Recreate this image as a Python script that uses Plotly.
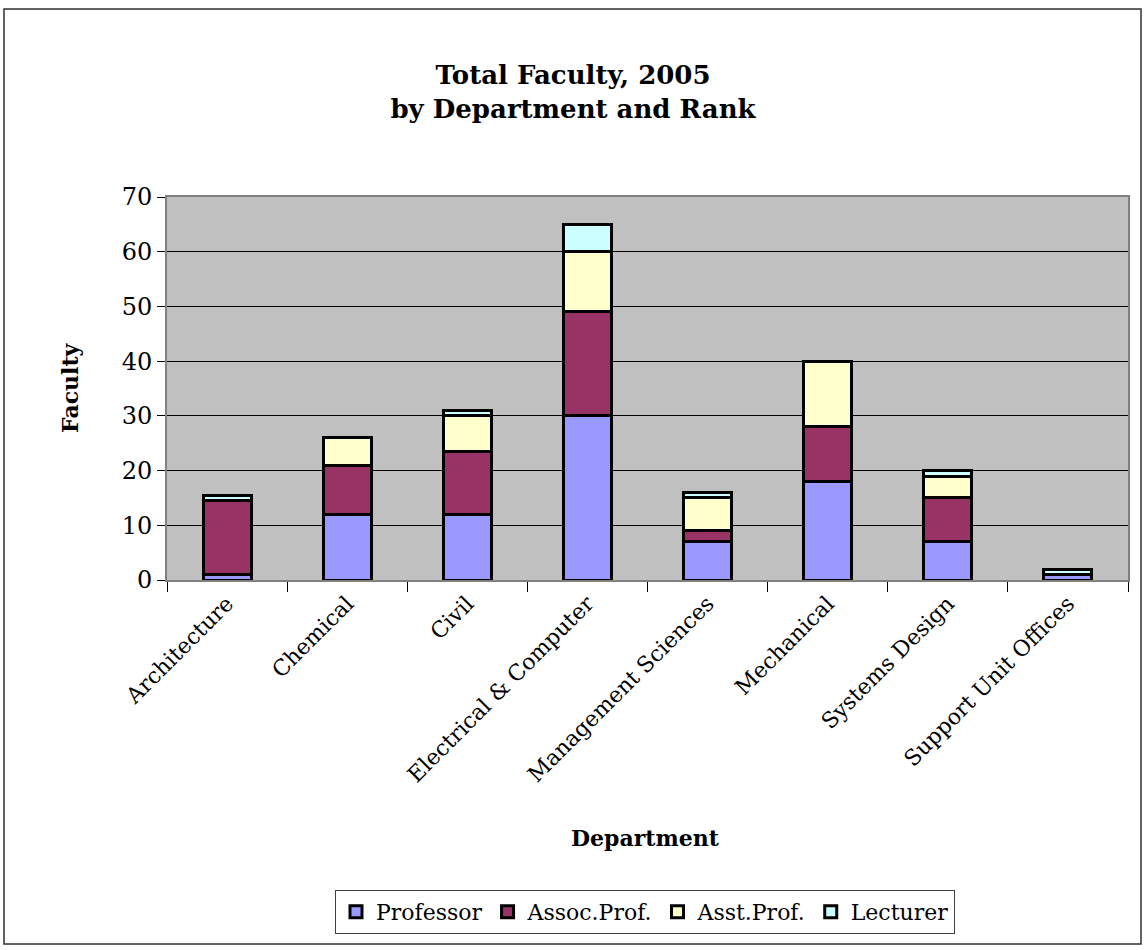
import plotly.graph_objects as go

departments = [
    "Architecture", "Chemical", "Civil", "Electrical & Computer",
    "Management Sciences", "Mechanical", "Systems Design", "Support Unit Offices",
]
professor = [1, 12, 12, 30, 7, 18, 7, 1]
assoc_prof = [13.5, 9, 11.5, 19, 2, 10, 8, 0]
asst_prof = [0, 5, 6.5, 11, 6, 12, 4, 0]
lecturer = [1, 0, 1, 5, 1, 0, 1, 1]

series = [
    ("Professor", professor, "#9999FF"),
    ("Assoc.Prof.", assoc_prof, "#993366"),
    ("Asst.Prof.", asst_prof, "#FFFFCC"),
    ("Lecturer", lecturer, "#CCFFFF"),
]

y_ticks = [0, 10, 20, 30, 40, 50, 60, 70]

SERIF = "DejaVu Serif"

fig = go.Figure()
for name, vals, color in series:
    fig.add_trace(go.Bar(
        x=departments, y=vals, name=name,
        marker=dict(color=color, line=dict(color="black", width=3)),
    ))

W, H = 1146, 950
L, R, T, B = 167, 18, 197, 370
pw, ph = W - L - R, H - T - B


def px_x(x):
    return (x - L) / pw


def px_y(y):
    return (H - B - y) / ph


fig.update_layout(
    width=W, height=H,
    margin=dict(l=L, r=R, t=T, b=B),
    barmode="stack",
    bargap=0.6,
    paper_bgcolor="white",
    plot_bgcolor="#C0C0C0",
    font=dict(family=SERIF, color="black"),
    title=dict(
        text="<b>Total Faculty, 2005<br>by Department and Rank</b>",
        x=px_x(573), xanchor="center", xref="paper",
        y=1 - 84 / H, yanchor="top", yref="container",
        font=dict(family=SERIF, size=26, color="black"),
    ),
    xaxis=dict(
        type="category",
        tickangle=-45,
        tickfont=dict(family=SERIF, size=22, color="black"),
        ticks="outside", ticklen=10, tickcolor="black", tickson="boundaries",
        showline=True, linecolor="#808080", linewidth=2, mirror=True,
        showgrid=False,
    ),
    yaxis=dict(
        range=[0, 70],
        tickvals=y_ticks,
        tickfont=dict(family=SERIF, size=24, color="black"),
        ticks="outside", ticklen=8, tickcolor="black",
        showgrid=True, gridcolor="black", gridwidth=1,
        showline=True, linecolor="#808080", linewidth=2, mirror=True,
        zeroline=False,
    ),
    legend=dict(
        orientation="h",
        traceorder="normal",
        x=px_x(645), xanchor="center",
        y=px_y(912), yanchor="middle",
        font=dict(family=SERIF, size=22, color="black"),
        bordercolor="#404040", borderwidth=1, bgcolor="white",
        itemwidth=30,
    ),
    showlegend=True,
)

fig.add_annotation(
    text="<b>Faculty</b>", textangle=-90,
    x=px_x(70), y=px_y(388), xref="paper", yref="paper",
    xanchor="center", yanchor="middle",
    showarrow=False, font=dict(family=SERIF, size=22, color="black"),
)
fig.add_annotation(
    text="<b>Department</b>",
    x=px_x(645), y=px_y(838), xref="paper", yref="paper",
    xanchor="center", yanchor="middle",
    showarrow=False, font=dict(family=SERIF, size=22, color="black"),
)

# Outer chart border
fig.add_shape(
    type="rect", xref="paper", yref="paper",
    x0=px_x(4), x1=px_x(1141), y0=px_y(944), y1=px_y(9),
    line=dict(color="#303030", width=1.5), fillcolor="rgba(0,0,0,0)",
    layer="below",
)

fig.write_html("out.html")
